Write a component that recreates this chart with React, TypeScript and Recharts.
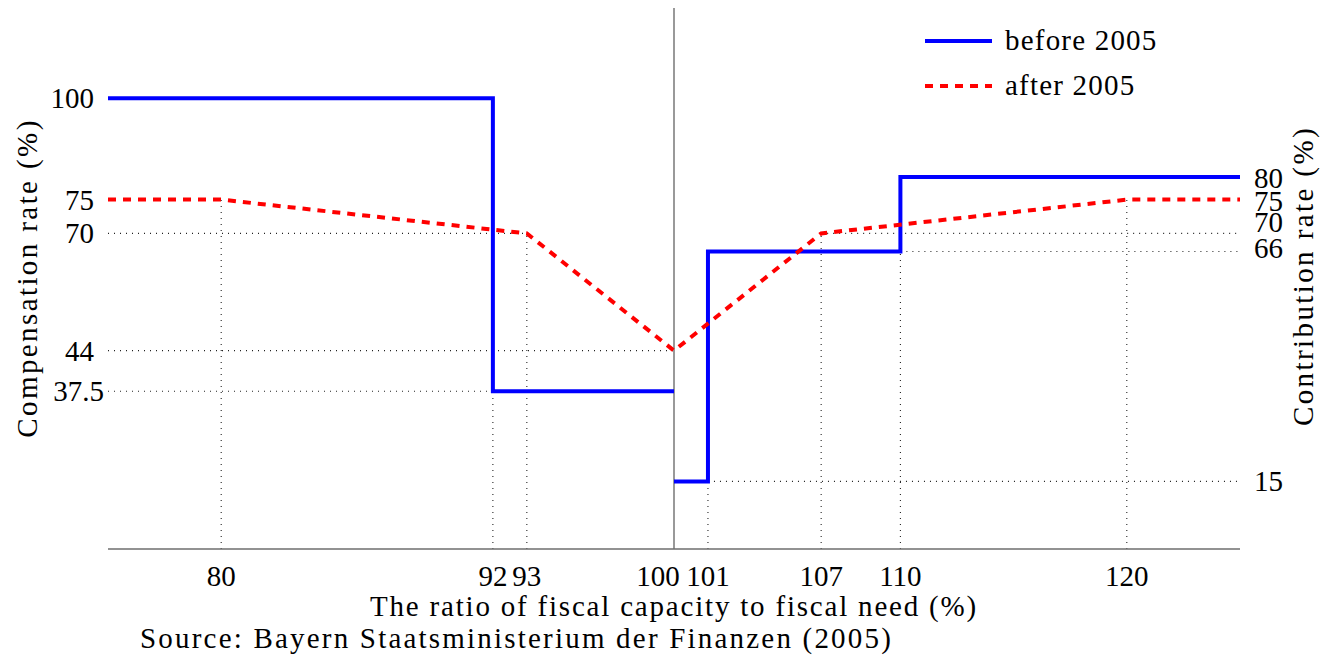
import React from "react";
import { LineChart, Line, XAxis, YAxis, ReferenceLine, Legend } from "recharts";

// tick positions on the plot and the labels printed at them
const xTickValues = [80, 92, 93.5, 100, 101.5, 106.5, 110, 120];
const xTickLabels = ["80", "92", "93", "100", "101", "107", "110", "120"];

const leftTickValues = [35, 44, 70, 77.5, 100];
const leftTickLabels = ["37.5", "44", "70", "75", "100"];

const rightTickValues = [15, 66, 70, 77.5, 82.5];
const rightTickLabels = ["15", "66", "70", "75", "80"];

// series (null = the jump at 100 is not joined)
const seriesNames = ["before 2005", "after 2005"];

const beforeX = [75, 92, 92, 100, 100, 100, 101.5, 101.5, 110, 110, 125];
const beforeY = [100, 100, 35, 35, null, 15, 15, 66, 66, 82.5, 82.5];

const afterX = [75, 80, 93.5, 100, 106.5, 120, 125];
const afterY = [77.5, 77.5, 70, 44, 70, 77.5, 77.5];

// dotted guide lines [x1, y1, x2, y2]
const guides: [number, number, number, number][] = [
  [75, 70, 93.5, 70],
  [75, 44, 100, 44],
  [75, 35, 100, 35],
  [106.5, 70, 125, 70],
  [110, 66, 125, 66],
  [101.5, 15, 125, 15],
  [80, 0, 80, 77.5],
  [92, 0, 92, 35],
  [93.5, 0, 93.5, 70],
  [101.5, 0, 101.5, 15],
  [106.5, 0, 106.5, 70],
  [110, 0, 110, 66],
  [120, 0, 120, 77.5],
];

const beforeData = beforeX.map((x, i) => ({ x, y: beforeY[i] }));
const afterData = afterX.map((x, i) => ({ x, y: afterY[i] }));

const FONT = "'Liberation Serif', serif";
const FS = 29;
const BLUE = "#0000ff";
const RED = "#ff0000";
const DASH = "8 7";

// small label nudges so crowded labels don't collide
const xNudge: Record<string, number> = { "100": -16 };
const leftNudge: Record<string, number> = { "37.5": 10 };
const rightNudge: Record<string, number> = { "80": 1, "75": 1, "70": -11, "66": -3 };

function XTick(props: any) {
  const { x, y, payload } = props;
  const label = xTickLabels[xTickValues.indexOf(payload.value)];
  return (
    <text x={x + (xNudge[label] || 0)} y={y + 35} textAnchor="middle" fontFamily={FONT} fontSize={FS} fill="#000">
      {label}
    </text>
  );
}

function LeftTick(props: any) {
  const { x, y, payload } = props;
  const label = leftTickLabels[leftTickValues.indexOf(payload.value)];
  return (
    <text x={x - 12 + (leftNudge[label] || 0)} y={y} dy={10} textAnchor="end" fontFamily={FONT} fontSize={FS} fill="#000">
      {label}
    </text>
  );
}

function RightTick(props: any) {
  const { x, y, payload } = props;
  const label = rightTickLabels[rightTickValues.indexOf(payload.value)];
  return (
    <text x={x + 12} y={y + 10 + (rightNudge[label] || 0)} textAnchor="start" fontFamily={FONT} fontSize={FS} fill="#000">
      {label}
    </text>
  );
}

function LegendBox() {
  const colors = [BLUE, RED];
  const dashes = [undefined, DASH];
  return (
    <div style={{ fontFamily: FONT, fontSize: FS, letterSpacing: 1.2 }}>
      {seriesNames.map((name, i) => (
        <div key={name} style={{ display: "flex", alignItems: "center", height: 45 }}>
          <svg width={67} height={10} style={{ marginRight: 13 }}>
            <line x1={0} y1={5} x2={67} y2={5} stroke={colors[i]} strokeWidth={4} strokeDasharray={dashes[i]} />
          </svg>
          <span style={{ lineHeight: "45px" }}>{name}</span>
        </div>
      ))}
    </div>
  );
}

export default function App() {
  return (
    <div style={{ position: "absolute", left: 0, top: 0, width: 1339, height: 665, background: "#fff" }}>
      <LineChart width={1339} height={665} margin={{ top: 8, right: 0, bottom: 0, left: 0 }}>
        <XAxis
          type="number"
          dataKey="x"
          domain={[75, 125]}
          ticks={xTickValues}
          interval={0}
          allowDataOverflow
          height={116}
          tickLine={false}
          tickSize={0}
          axisLine={{ stroke: "#6e6e6e", strokeWidth: 1.4 }}
          tick={(p: any) => <XTick {...p} />}
          label={() => (
            <g fontFamily={FONT} fontSize={FS} fill="#000">
              <text x={674} y={616} textAnchor="middle" letterSpacing={1.8}>
                The ratio of fiscal capacity to fiscal need (%)
              </text>
              <text x={140} y={648} textAnchor="start" letterSpacing={2.2}>
                Source: Bayern Staatsministerium der Finanzen (2005)
              </text>
            </g>
          )}
        />
        <YAxis
          yAxisId="left"
          orientation="left"
          type="number"
          domain={[0, 120]}
          ticks={leftTickValues}
          interval={0}
          width={108}
          axisLine={false}
          tickLine={false}
          tickSize={0}
          tick={(p: any) => <LeftTick {...p} />}
          label={() => (
            <text x={37} y={278} transform="rotate(-90, 37, 278)" textAnchor="middle" fontFamily={FONT} fontSize={FS} fill="#000" letterSpacing={2.4}>
              Compensation rate (%)
            </text>
          )}
        />
        <YAxis
          yAxisId="right"
          orientation="right"
          type="number"
          domain={[0, 120]}
          ticks={rightTickValues}
          interval={0}
          width={99}
          axisLine={false}
          tickLine={false}
          tickSize={0}
          tick={(p: any) => <RightTick {...p} />}
          label={() => (
            <text x={1313} y={276} transform="rotate(-90, 1313, 276)" textAnchor="middle" fontFamily={FONT} fontSize={FS} fill="#000" letterSpacing={2.4}>
              Contribution rate (%)
            </text>
          )}
        />
        <ReferenceLine yAxisId="left" x={100} stroke="#6e6e6e" strokeWidth={1.4} />
        {guides.map((g, i) => (
          <ReferenceLine
            key={i}
            yAxisId="left"
            segment={[{ x: g[0], y: g[1] }, { x: g[2], y: g[3] }]}
            stroke="#222"
            strokeWidth={1.1}
            strokeDasharray="1 5"
          />
        ))}
        <Line
          yAxisId="left"
          data={beforeData}
          dataKey="y"
          name={seriesNames[0]}
          type="linear"
          stroke={BLUE}
          strokeWidth={4}
          strokeLinejoin="miter"
          connectNulls={false}
          dot={false}
          activeDot={false}
          isAnimationActive={false}
        />
        <Line
          yAxisId="right"
          data={afterData}
          dataKey="y"
          name={seriesNames[1]}
          type="linear"
          stroke={RED}
          strokeWidth={4}
          strokeDasharray={DASH}
          dot={false}
          activeDot={false}
          isAnimationActive={false}
        />
        <Legend
          layout="vertical"
          align="center"
          verticalAlign="middle"
          wrapperStyle={{ left: 925, top: 18, width: 260, height: 90 }}
          content={() => <LegendBox />}
        />
      </LineChart>
    </div>
  );
}
